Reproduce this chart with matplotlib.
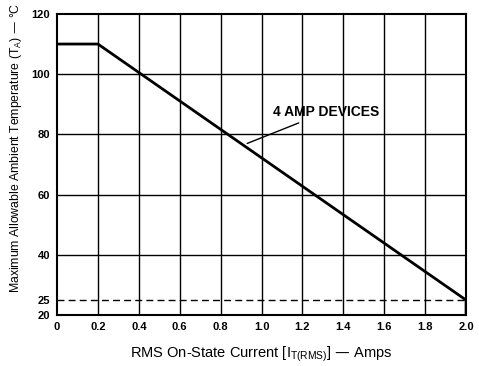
import matplotlib
matplotlib.use('Agg')
from matplotlib import pyplot as plt

# derating curve
current = [0.0, 0.2, 2.0, 2.0]
temp_max = [110, 110, 25, 20]
ambient_ref = 25

x_ticks = [0, 0.2, 0.4, 0.6, 0.8, 1.0, 1.2, 1.4, 1.6, 1.8, 2.0]
x_tick_labels = ['0', '0.2', '0.4', '0.6', '0.8', '1.0', '1.2', '1.4', '1.6', '1.8', '2.0']
y_ticks = [20, 25, 40, 60, 80, 100, 120]
grid_y = [40, 60, 80, 100]

plt.rcParams['font.family'] = ['Liberation Sans', 'DejaVu Sans']

fig = plt.figure(figsize=(4.79, 3.66), dpi=100)
ax = fig.add_axes([0.119, 0.139, 0.854, 0.823])

for x in x_ticks[1:-1]:
    ax.axvline(x, color='black', lw=1.0, zorder=1)
for y in grid_y:
    ax.axhline(y, color='black', lw=1.0, zorder=1)

ax.axhline(ambient_ref, color='black', lw=1.0, ls=(0, (5, 3)), zorder=2)
ax.plot(current, temp_max, color='black', lw=2.0, solid_joinstyle='miter', zorder=3)

ax.annotate('4 AMP DEVICES', xy=(0.93, 77.0), xytext=(1.055, 87.4),
            fontsize=10, fontweight='bold', va='center', ha='left',
            arrowprops=dict(arrowstyle='-', color='black', lw=1.0,
                            shrinkA=2, shrinkB=0))

ax.set_xlim(0, 2.0)
ax.set_ylim(20, 120)
ax.set_xticks(x_ticks)
ax.set_xticklabels(x_tick_labels)
ax.set_yticks(y_ticks)
ax.tick_params(length=0, labelsize=8, pad=5)
for lab in ax.get_xticklabels() + ax.get_yticklabels():
    lab.set_fontweight('bold')
for s in ax.spines.values():
    s.set_linewidth(1.5)

ax.set_xlabel('RMS On-State Current [I$_{\\mathregular{T(RMS)}}$] — Amps', fontsize=10.5, labelpad=9)
ax.set_ylabel('Maximum Allowable Ambient Temperature (T$_{\\mathregular{A}}$) — °C', fontsize=8.8)
ax.yaxis.set_label_coords(-0.08, 0.555)

fig.savefig('out.png', dpi=100)
plt.close(fig)
